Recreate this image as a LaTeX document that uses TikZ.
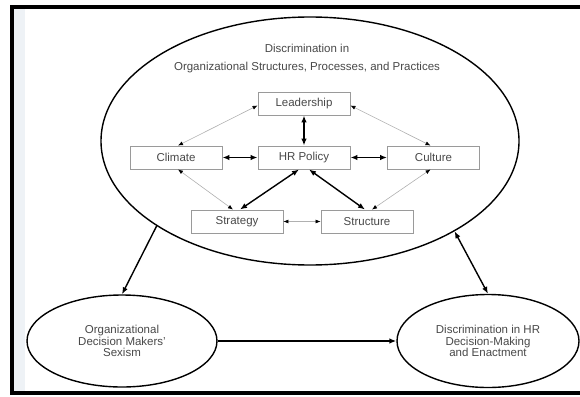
\documentclass[tikz,border=0pt]{standalone}
\usepackage{fontspec}
\setmainfont{Liberation Sans}
\usepackage{tikz}
\usetikzlibrary{arrows.meta,shapes.geometric}
\definecolor{txt}{HTML}{484848}
\definecolor{boxline}{HTML}{9A9A9A}
\definecolor{thinline}{HTML}{B0B0B0}
\definecolor{strip}{HTML}{EEF2F6}

\begin{document}
\begin{tikzpicture}[x=1pt,y=-1pt,
    box/.style={draw=boxline,line width=0.9pt,minimum width=92pt,minimum height=23pt,inner sep=0pt,text=txt,font=\fontsize{11.5}{11.7}\selectfont},
    oval/.style={ellipse,draw,line width=1.4pt,inner sep=0pt,align=center,text=txt,font=\fontsize{11.5}{11.7}\selectfont},
    label/.style={text=txt,inner sep=0pt,font=\fontsize{11.5}{11.7}\selectfont},
    strong/.style={line width=1.4pt,>={Latex[length=7pt,width=5.5pt]}},
    soft/.style={draw=thinline,line width=0.6pt,>={Latex[black,length=5pt,width=4pt]}}]
					\useasboundingbox (0,0) rectangle (580,396);
					\fill [strip] (14,9) rectangle (25,390.5);
					\draw [line width=4pt] (580,7) -- (12,7) -- (12,392.5) -- (580,392.5);
					% big ellipse and its title
					\node (org) at (310,141) [oval,minimum width=418pt,minimum height=248pt] {};
					\node (ttl1) at (307,  48) [label] {Discrimination in};
					\node (ttl2) at (307,  68) [label] {Organizational Structures, Processes, and Practices};
					% boxes
					\node (lead)   at (  304, 103.5) [box] {Leadership};
					\node (clim)   at (  176, 157.5) [box] {Climate};
					\node (hr)     at (  304, 157.5) [box] {HR Policy};
					\node (cult)   at (433.5, 157.5) [box] {Culture};
					\node (strat)  at (  237, 221.5) [box] {Strategy};
					\node (struct) at (  367, 221.5) [box] {Structure};
					% lower ellipses
					\node (dms) at (122, 341) [oval,minimum width=190pt,minimum height=92pt] {Organizational\\Decision Makers'\\Sexism};
					\node (hrd) at (488, 341) [oval,minimum width=182pt,minimum height=93pt] {Discrimination in HR\\Decision-Making\\and Enactment};
					% links inside
					\draw [strong,<->] (lead) -- (hr);
					\draw [strong,<->] (clim) -- (hr);
					\draw [strong,<->] (hr) -- (cult);
					\draw [strong,<->] ([xshift=-5pt]hr.south) -- ([xshift=3pt]strat.north);
					\draw [strong,<->] ([xshift=5pt]hr.south) -- ([xshift=-2pt]struct.north);
					\draw [soft,<->] ([yshift=-2pt]lead.west) -- ([xshift=2pt]clim.north);
					\draw [soft,<->] ([yshift=-2pt]lead.east) -- ([xshift=-3pt]cult.north);
					\draw [soft,<->] ([xshift=2pt]clim.south) -- ([xshift=-4pt]strat.north);
					\draw [soft,<->] ([xshift=-3pt]cult.south) -- ([xshift=5pt]struct.north);
					\draw [soft,<->] (strat) -- (struct);
					% links outside
					\draw [strong,->] (org.209) -- (dms.north);
					\draw [strong,<->] (org.328) -- (hrd.north);
					\draw [strong,->] (dms) -- (hrd);
				\end{tikzpicture}
\end{document}
